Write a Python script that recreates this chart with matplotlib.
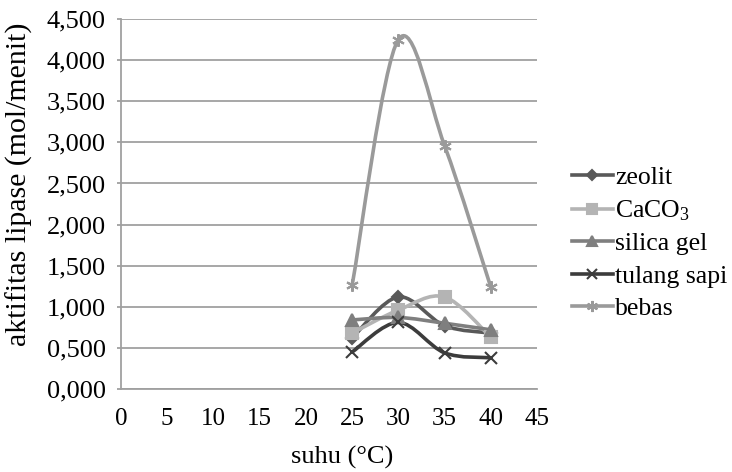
import numpy as np
import matplotlib
matplotlib.use("Agg")
import matplotlib.pyplot as plt
from matplotlib.path import Path
from matplotlib.patches import PathPatch
from matplotlib.lines import Line2D
from matplotlib.ticker import FuncFormatter

plt.rcParams['font.family'] = ['Liberation Serif', 'DejaVu Serif']
plt.rcParams['mathtext.fontset'] = 'custom'
plt.rcParams['mathtext.rm'] = 'Liberation Serif'
plt.rcParams['mathtext.it'] = 'Liberation Serif:italic'
plt.rcParams['mathtext.bf'] = 'Liberation Serif:bold'

suhu = [25, 30, 35, 40]
zeolit = [0.62, 1.12, 0.77, 0.68]
caco3 = [0.68, 0.96, 1.12, 0.63]
silica = [0.84, 0.87, 0.80, 0.72]
tulang = [0.45, 0.81, 0.44, 0.38]
bebas = [1.26, 4.25, 2.96, 1.24]

labels = ['zeolit', r'CaCO$_\mathrm{3}$', 'silica gel', 'tulang sapi', 'bebas']
colors = ['#595959', '#b4b4b4', '#7f7f7f', '#3c3c3c', '#9a9a9a']
markers = ['D', 's', '^', 'x', (6, 2, 0)]
msizes = [6, 8, 8, 8, 9]
series = [zeolit, caco3, silica, tulang, bebas]

fig = plt.figure(figsize=(7.32, 4.72), dpi=100)
ax = fig.add_axes([0.1653, 0.1758, 0.5683, 0.7839])


def smooth_path(x, y):
    x = np.asarray(x, float)
    y = np.asarray(y, float)
    n = len(x)
    verts = [(x[0], y[0])]
    codes = [Path.MOVETO]
    for i in range(n - 1):
        p0 = np.array([x[max(i - 1, 0)], y[max(i - 1, 0)]])
        p1 = np.array([x[i], y[i]])
        p2 = np.array([x[i + 1], y[i + 1]])
        p3 = np.array([x[min(i + 2, n - 1)], y[min(i + 2, n - 1)]])
        c1 = p1 + (p2 - p0) / 6.0
        c2 = p2 - (p3 - p1) / 6.0
        verts += [tuple(c1), tuple(c2), tuple(p2)]
        codes += [Path.CURVE4] * 3
    return Path(verts, codes)


handles = []
for s, lab, c, m, ms in zip(series, labels, colors, markers, msizes):
    patch = PathPatch(smooth_path(suhu, s), facecolor='none', edgecolor=c,
                      lw=2.6, zorder=3, capstyle='round', joinstyle='round')
    ax.add_patch(patch)
    ax.plot(suhu, s, ls='none', marker=m, ms=ms, color=c, mec=c, mew=1.5, zorder=4)
    handles.append(Line2D([0], [0], color=c, lw=2.6, marker=m, ms=ms - 1, mec=c, mew=1.5))

ax.set_xlim(0, 45)
ax.set_ylim(0, 4.5)
ax.set_xticks(np.arange(0, 46, 5))
ax.set_yticks(np.arange(0, 4.51, 0.5))
ax.yaxis.set_major_formatter(FuncFormatter(lambda v, p: f"{v:.3f}".replace('.', ',')))
ax.grid(axis='y', color='#a0a0a0', lw=1.3)
ax.set_axisbelow(True)
for sp in ['top', 'right']:
    ax.spines[sp].set_visible(False)
for sp in ['left', 'bottom']:
    ax.spines[sp].set_color('#a0a0a0')
    ax.spines[sp].set_linewidth(1.3)
ax.tick_params(axis='y', length=3, color='#a0a0a0', width=1.3, labelsize=19, pad=8)
ax.tick_params(axis='x', length=0, labelsize=18, pad=14)
ax.set_xlabel('suhu (°C)', fontsize=19)
ax.set_ylabel('aktifitas lipase (mol/menit)', fontsize=21.5)
ax.xaxis.set_label_coords((342 - 121) / 416.0, -(457 - 389) / 370.0)
ax.yaxis.set_label_coords(-(121 - 19) / 416.0, (389 - 184) / 370.0)
ax.xaxis.label.set_va('center')
ax.yaxis.label.set_va('center')

fig.legend(handles, labels, loc='center left', bbox_to_anchor=(0.781, 0.485),
           frameon=False, fontsize=18.5, handlelength=1.6, handletextpad=0.08,
           labelspacing=0.36, borderpad=0, borderaxespad=0)

fig.savefig('out.png', dpi=100)
